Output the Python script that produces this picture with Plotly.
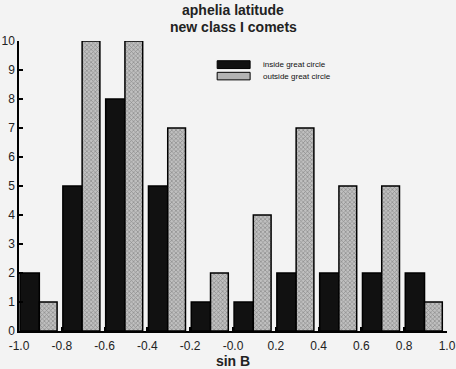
import plotly.graph_objects as go

bin_left = [-1.0, -0.8, -0.6, -0.4, -0.2, 0.0, 0.2, 0.4, 0.6, 0.8]
inside = [2, 5, 8, 5, 1, 1, 2, 2, 2, 2]
outside = [1, 10, 10, 7, 2, 4, 7, 5, 5, 1]
tick_vals = [-1.0, -0.8, -0.6, -0.4, -0.2, 0.0, 0.2, 0.4, 0.6, 0.8, 1.0]
tick_text = ["-1.0", "-0.8", "-0.6", "-0.4", "-0.2", "-0.0", "0.2", "0.4", "0.6", "0.8", "1.0"]
series_names = ["inside great circle", "outside great circle"]
title_lines = ["aphelia latitude", "new class I comets"]

FONT = "Liberation Sans"

fig = go.Figure()
fig.add_trace(go.Bar(
    x=bin_left, y=inside, name=series_names[0], showlegend=False,
    offset=0.005, width=0.09,
    marker=dict(color="#111111", line=dict(color="#000000", width=1.5)),
))
fig.add_trace(go.Bar(
    x=bin_left, y=outside, name=series_names[1], showlegend=False,
    offset=0.095, width=0.083,
    marker=dict(color="#b8b8b8", line=dict(color="#000000", width=1.5),
                pattern=dict(shape="x", fgcolor="#555555", bgcolor="#c0c0c0", size=3, solidity=0.4)),
))

# custom legend (wide swatches like the reference)
fig.add_shape(type="rect", xref="paper", yref="paper", x0=0.463, x1=0.540, y0=0.905, y1=0.932,
              fillcolor="#111111", line=dict(color="#000", width=1))
fig.add_shape(type="rect", xref="paper", yref="paper", x0=0.463, x1=0.540, y0=0.866, y1=0.892,
              fillcolor="#b4b4b4", line=dict(color="#000", width=1))
fig.add_annotation(xref="paper", yref="paper", x=0.565, y=0.918, text=series_names[0],
                   showarrow=False, xanchor="left", yanchor="middle",
                   font=dict(size=8, family=FONT, color="#111"))
fig.add_annotation(xref="paper", yref="paper", x=0.565, y=0.879, text=series_names[1],
                   showarrow=False, xanchor="left", yanchor="middle",
                   font=dict(size=8, family=FONT, color="#111"))

# two-line bold title
fig.add_annotation(xref="paper", yref="paper", x=0.5, y=1.107, text="<b>%s</b>" % title_lines[0],
                   showarrow=False, xanchor="center", yanchor="middle",
                   font=dict(size=14, family=FONT, color="#222"))
fig.add_annotation(xref="paper", yref="paper", x=0.5, y=1.048, text="<b>%s</b>" % title_lines[1],
                   showarrow=False, xanchor="center", yanchor="middle",
                   font=dict(size=14, family=FONT, color="#222"))

fig.update_layout(
    width=456, height=369,
    paper_bgcolor="#f3f3f3", plot_bgcolor="#f3f3f3",
    margin=dict(l=19, r=9, t=41, b=38, autoexpand=False),
    barmode="overlay",
    showlegend=False,
    font=dict(family=FONT, color="#111"),
)
fig.update_xaxes(range=[-1.0, 1.0], tickvals=tick_vals, ticktext=tick_text, automargin=False,
                 ticks="inside", ticklen=4, tickcolor="#000", tickwidth=1.5, ticklabelstandoff=3,
                 showline=True, linecolor="#000", linewidth=1.5, showgrid=False, zeroline=False,
                 tickfont=dict(size=12, family=FONT, color="#222"),
                 title=dict(text="<b>sin B</b>", font=dict(size=14, family=FONT, color="#222"), standoff=0))
fig.update_yaxes(range=[0, 10], tickvals=list(range(0, 11)), automargin=False,
                 ticks="inside", ticklen=4, tickcolor="#000", tickwidth=1.5,
                 showline=True, linecolor="#000", linewidth=1.5, showgrid=False, zeroline=False,
                 tickfont=dict(size=12, family=FONT, color="#222"))

fig.write_html("out.html", config={"displayModeBar": False},
               post_script="document.body.style.margin='0';document.body.style.background='#f3f3f3';")
